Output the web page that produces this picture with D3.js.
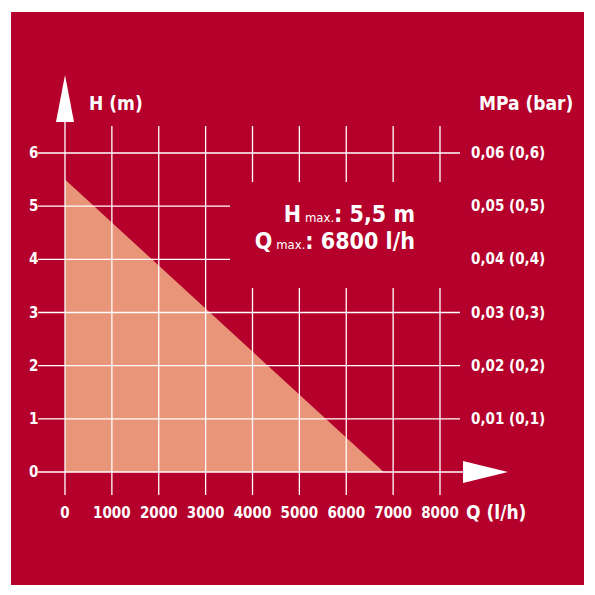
<!DOCTYPE html>
<meta charset="utf-8">
<style>
body { margin: 0; background: #fff; }
text { font-family: "Liberation Sans Narrow", "DejaVu Sans Condensed", sans-serif; font-weight: bold; fill: #fff; }
.tick_lab { font-size: 15px; }
.axis_title { font-size: 19px; }
.grid { stroke: #fff; stroke-width: 1.3; }
</style>
<svg width="595" height="595"></svg>
<script src="https://d3js.org/d3.v7.min.js"></script>
<script>
var qTicks = [0, 1000, 2000, 3000, 4000, 5000, 6000, 7000, 8000];
var hTicks = [0, 1, 2, 3, 4, 5, 6];
var pressureLabels = ["0,01 (0,1)", "0,02 (0,2)", "0,03 (0,3)", "0,04 (0,4)", "0,05 (0,5)", "0,06 (0,6)"];
var curveQ = [0, 6800];
var curveH = [5.5, 0];

var svg = d3.select("svg");
var x = d3.scaleLinear().domain([0, 8000]).range([65, 440]);
var y = d3.scaleLinear().domain([0, 6]).range([472, 153]);

svg.append("rect").attr("x", 11).attr("y", 12).attr("width", 573).attr("height", 573).attr("fill", "#b4002b");

// curve area
var pts = [[curveQ[0], 0], [curveQ[0], curveH[0]], [curveQ[1], curveH[1]]];
svg.append("path")
  .attr("d", d3.line().x(function(d) { return x(d[0]); }).y(function(d) { return y(d[1]); })(pts) + "Z")
  .attr("fill", "#e8957a");

// vertical grid
qTicks.forEach(function(q) {
  if (q === 0) return;
  if (q >= 4000) {
    svg.append("line").attr("class", "grid").attr("x1", x(q)).attr("x2", x(q)).attr("y1", 126).attr("y2", 182);
    svg.append("line").attr("class", "grid").attr("x1", x(q)).attr("x2", x(q)).attr("y1", 288).attr("y2", 495);
  } else {
    svg.append("line").attr("class", "grid").attr("x1", x(q)).attr("x2", x(q)).attr("y1", 126).attr("y2", 495);
  }
});
// horizontal grid
hTicks.forEach(function(h) {
  if (h === 0) return;
  var x2 = (h === 4 || h === 5) ? 230 : 460;
  svg.append("line").attr("class", "grid").attr("x1", 38).attr("x2", x2).attr("y1", y(h)).attr("y2", y(h));
});

// axes with arrows
svg.append("line").attr("class", "grid").attr("x1", x(0)).attr("x2", x(0)).attr("y1", 495).attr("y2", 110);
svg.append("path").attr("d", "M56,122 L74,122 L65,75 Z").attr("fill", "#fff");
svg.append("line").attr("class", "grid").attr("x1", 38).attr("x2", 470).attr("y1", y(0)).attr("y2", y(0));
svg.append("path").attr("d", "M463,461 L463,483 L508,472 Z").attr("fill", "#fff");

// labels
svg.selectAll(".ylab").data(hTicks).enter().append("text")
  .attr("class", "tick_lab").attr("x", 29).attr("y", function(d) { return y(d) + 5; }).text(function(d) { return d; });
svg.selectAll(".plab").data(pressureLabels).enter().append("text")
  .attr("class", "tick_lab").attr("x", 471).attr("y", function(d, i) { return y(i + 1) + 5; }).text(function(d) { return d; });
svg.selectAll(".xlab").data(qTicks).enter().append("text")
  .attr("class", "tick_lab").attr("text-anchor", "middle").attr("x", function(d) { return x(d); }).attr("y", 518)
  .text(function(d) { return d; });

svg.append("text").attr("class", "axis_title").attr("x", 89).attr("y", 110).text("H (m)");
svg.append("text").attr("class", "axis_title").attr("x", 479).attr("y", 110).text("MPa (bar)");
svg.append("text").attr("class", "axis_title").attr("x", 466).attr("y", 519).text("Q (l/h)");

var info = svg.append("text").attr("text-anchor", "end").style("font-size", "23px");
var t1 = svg.append("text").attr("text-anchor", "end").attr("x", 415).attr("y", 222).style("font-size", "23px");
t1.append("tspan").text("H");
t1.append("tspan").style("font-size", "13px").style("font-weight", "normal").text(" max.");
t1.append("tspan").text(": 5,5 m");
var t2 = svg.append("text").attr("text-anchor", "end").attr("x", 415).attr("y", 249).style("font-size", "23px");
t2.append("tspan").text("Q");
t2.append("tspan").style("font-size", "13px").style("font-weight", "normal").text(" max.");
t2.append("tspan").text(": 6800 l/h");
</script>
